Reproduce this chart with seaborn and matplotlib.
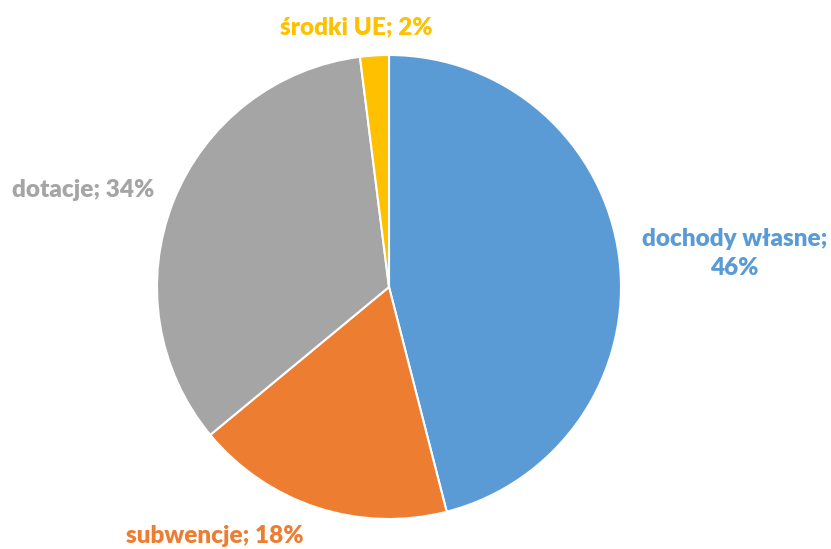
import matplotlib
matplotlib.use("Agg")
import matplotlib.pyplot as plt
import seaborn as sns

# Chart data
categories = ["dochody własne", "subwencje", "dotacje", "środki UE"]
shares = [46, 18, 34, 2]
colors = ["#5B9BD5", "#ED7D31", "#A5A5A5", "#FFC000"]

# Label placement (axes data units, pie radius = 1)
label_pos = [(1.49, 0.145), (-0.75, -1.075), (-1.32, 0.42), (-0.14, 1.12)]

sns.set_theme(style="white")
plt.rcParams['font.family'] = ['Lato', 'DejaVu Sans']

fig = plt.figure(figsize=(8.31, 5.49), dpi=100)
ax = fig.add_axes([157 / 831, 30 / 549, 464 / 831, 464 / 549])

wedges, texts = ax.pie(
    shares,
    colors=colors,
    startangle=90,
    counterclock=False,
    wedgeprops={"linewidth": 1.5, "edgecolor": "white"},
)

for i, (name, val) in enumerate(zip(categories, shares)):
    txt = f"{name};\n{val}%" if name == "dochody własne" else f"{name}; {val}%"
    ax.text(label_pos[i][0], label_pos[i][1], txt, ha="center", va="center",
            color=colors[i], fontsize=17.5, fontweight="heavy", linespacing=1.35,
            clip_on=False)

ax.set_xlim(-1, 1)
ax.set_ylim(-1, 1)
ax.set_aspect("equal")
ax.axis("off")

fig.savefig("out.png", dpi=100)
